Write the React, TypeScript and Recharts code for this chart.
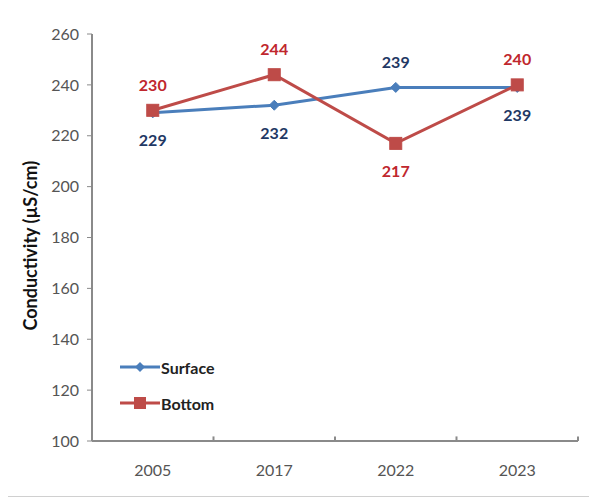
import React from "react";
import { LineChart, Line, XAxis, YAxis, Legend, LabelList, ReferenceLine } from "recharts";

const years = ["2005", "2017", "2022", "2023"];
const surface = [229, 232, 239, 239];
const bottom = [230, 244, 217, 240];
const yTicks = [100, 120, 140, 160, 180, 200, 220, 240, 260];

const data = years.map((y, i) => ({ year: y, surface: surface[i], bottom: bottom[i] }));

const FONT = "Lato, 'Open Sans', sans-serif";
const SURF = "#4A7EBB";
const BOT = "#BE4B48";
const SURF_LBL = "#1F3864";
const BOT_LBL = "#C0272D";
const AXIS = "#8a8a8a";

const makeLabel = (key: "surface" | "bottom", color: string) => (props: any) => {
  const { x, y, value, index } = props;
  const other = key === "surface" ? bottom[index] : surface[index];
  const above = value > other;
  return (
    <text
      x={x}
      y={above ? y - 26 : y + 27}
      textAnchor="middle"
      dominantBaseline="central"
      fill={color}
      fontFamily={FONT}
      fontWeight="bold"
      fontSize={16}
    >
      {value}
    </text>
  );
};

const Diamond = (props: any) => {
  const { cx, cy } = props;
  const r = 5;
  return <path d={`M${cx},${cy - r}L${cx + r},${cy}L${cx},${cy + r}L${cx - r},${cy}Z`} fill={SURF} stroke={SURF} />;
};
const Square = (props: any) => {
  const { cx, cy } = props;
  const s = 12;
  return <rect x={cx - s / 2} y={cy - s / 2} width={s} height={s} fill={BOT} stroke={BOT} />;
};

const LegendContent = () => (
  <svg width={130} height={60}>
    <line x1={2} y1={12} x2={42} y2={12} stroke={SURF} strokeWidth={3} />
    <path d="M22,7L27,12L22,17L17,12Z" fill={SURF} />
    <text x={43} y={12} dominantBaseline="central" fontFamily={FONT} fontWeight="bold" fontSize={16} fill="#222">
      Surface
    </text>
    <line x1={2} y1={48} x2={42} y2={48} stroke={BOT} strokeWidth={3} />
    <rect x={16} y={42} width={12} height={12} fill={BOT} />
    <text x={43} y={48} dominantBaseline="central" fontFamily={FONT} fontWeight="bold" fontSize={16} fill="#222">
      Bottom
    </text>
  </svg>
);

export default function App() {
  return (
    <div
      style={{
        width: 592,
        height: 490,
        border: "1px solid #d0d0d0",
        boxSizing: "border-box",
        marginLeft: -1,
        marginTop: -1,
        background: "#fff",
      }}
    >
      <LineChart
        width={590}
        height={488}
        data={data}
        margin={{ top: 26, right: 20, bottom: 20, left: 0 }}
      >
        <XAxis
          dataKey="year"
          scale="band"
          axisLine={{ stroke: AXIS, strokeWidth: 2 }}
          tickLine={false}
          tick={{ fill: "#555", fontFamily: FONT, fontSize: 16 }}
          tickMargin={18}
          height={35}
        />
        <YAxis
          domain={[100, 260]}
          ticks={yTicks}
          interval={0}
          axisLine={{ stroke: AXIS, strokeWidth: 2 }}
          tickLine={{ stroke: AXIS }}
          tickSize={5}
          tickMargin={8}
          tick={{ fill: "#555", fontFamily: FONT, fontSize: 16 }}
          width={84}
          label={{
            value: "Conductivity (µS/cm)",
            angle: -90,
            position: "insideLeft",
            dx: 18,
            dy: 93,
            style: { fontFamily: FONT, fontWeight: "bold", fontSize: 18, fill: "#111" },
          }}
        />
        {years.slice(1).map((yr) => (
          <ReferenceLine
            key={"t" + yr}
            position="start"
            segment={[
              { x: yr, y: 100 },
              { x: yr, y: 101.8 },
            ]}
            stroke={AXIS}
            strokeWidth={2}
          />
        ))}
        <ReferenceLine
          position="end"
          segment={[
            { x: years[years.length - 1], y: 100 },
            { x: years[years.length - 1], y: 101.8 },
          ]}
          stroke={AXIS}
          strokeWidth={2}
        />
        <Legend
          content={<LegendContent />}
          layout="vertical"
          verticalAlign="middle"
          align="center"
          wrapperStyle={{ left: 110, top: 347, width: 130 }}
        />
        <Line
          dataKey="surface"
          stroke={SURF}
          strokeWidth={3}
          dot={<Diamond />}
          activeDot={false}
          isAnimationActive={false}
        >
          <LabelList dataKey="surface" content={makeLabel("surface", SURF_LBL)} />
        </Line>
        <Line
          dataKey="bottom"
          stroke={BOT}
          strokeWidth={3}
          dot={<Square />}
          activeDot={false}
          isAnimationActive={false}
        >
          <LabelList dataKey="bottom" content={makeLabel("bottom", BOT_LBL)} />
        </Line>
      </LineChart>
    </div>
  );
}
